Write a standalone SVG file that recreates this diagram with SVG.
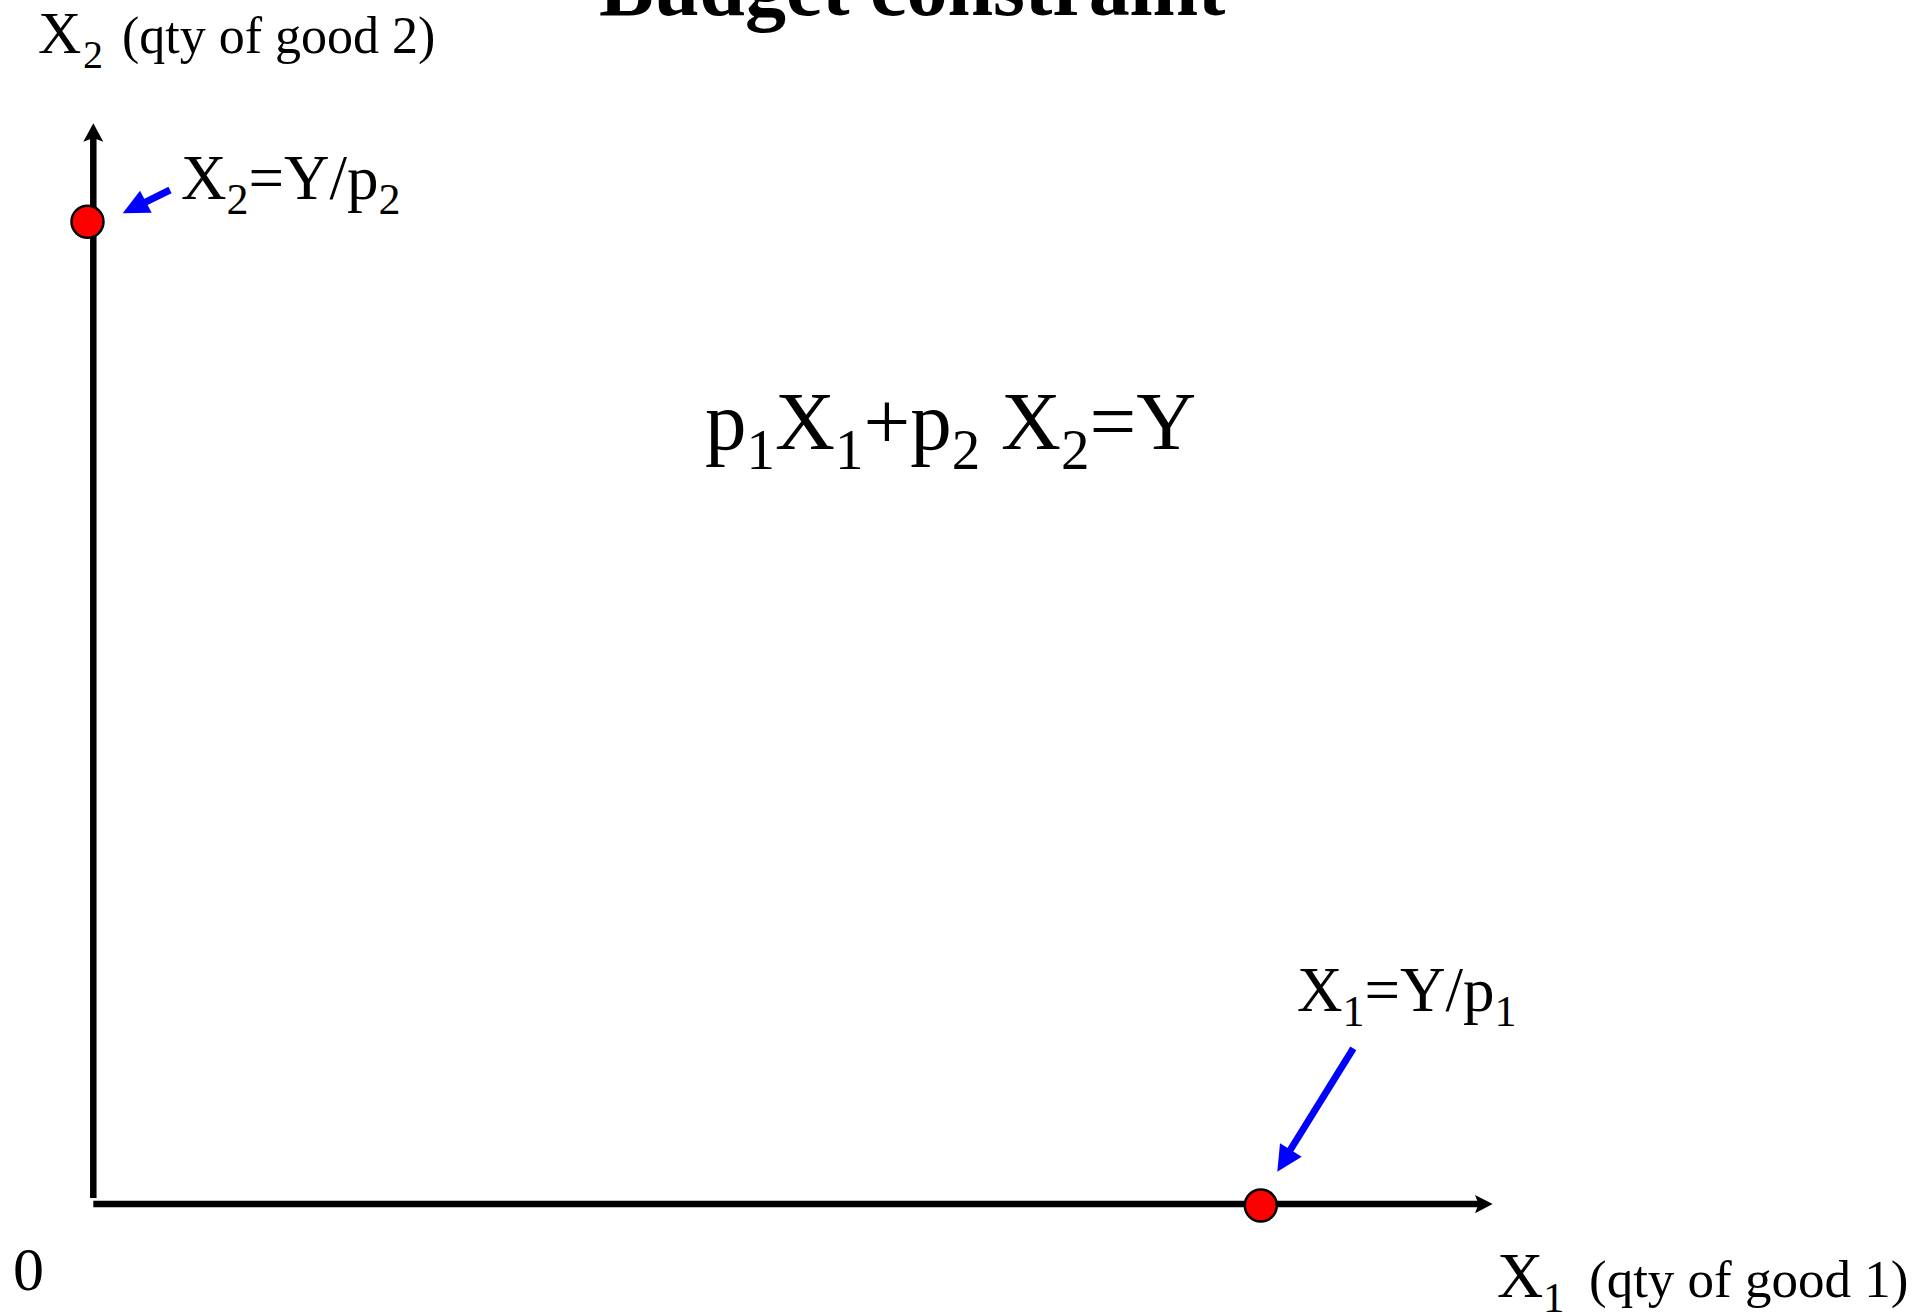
<svg xmlns="http://www.w3.org/2000/svg" width="1927" height="1316" viewBox="0 0 1927 1316">
<style>
text{font-family:"Liberation Serif","Times New Roman",serif;fill:#000}
.axis{stroke:#000;stroke-width:6.5;fill:none}
.head{fill:#000}
.pt{fill:#ff0000;stroke:#000;stroke-width:2.5}
.ptr{stroke:#0000ff;stroke-width:7;fill:none}
.ptrh{fill:#0000ff}
</style>
<rect width="1927" height="1316" fill="#fff"/>
<text id="title" x="599" y="15" font-size="82" font-weight="bold">Budget constraint</text>
<g id="axes">
<line class="axis" x1="93.3" y1="1198" x2="93.3" y2="136"/>
<path class="head" d="M93.3,123.3 L103.3,141.7 L93.3,138 L83.3,141.7 Z"/>
<line class="axis" x1="93.3" y1="1204" x2="1480" y2="1204"/>
<path class="head" d="M1492.7,1204 L1475,1213.3 L1478.5,1204 L1475,1195 Z"/>
</g>
<g id="labels">
<text x="38" y="53"><tspan font-size="60">X</tspan><tspan font-size="40" x="83" y="68">2</tspan><tspan font-size="52" x="122" y="53">(qty of good 2)</tspan></text>
<text x="1497" y="1297"><tspan font-size="64">X</tspan><tspan font-size="43" x="1543" y="1312">1</tspan><tspan font-size="53" x="1589" y="1297">(qty of good 1)</tspan></text>
<text x="13" y="1290" font-size="62">0</text>
</g>
<g id="formula">
<text x="705" y="449" font-size="83">p<tspan font-size="57" dy="20">1</tspan><tspan dy="-20">X</tspan><tspan font-size="57" dy="20">1</tspan><tspan dy="-20">+p</tspan><tspan font-size="57" dy="20">2</tspan><tspan dy="-20"> X</tspan><tspan font-size="57" dy="20">2</tspan><tspan dy="-20">=Y</tspan></text>
</g>
<g id="node-intercept-x2">
<circle class="pt" cx="87.5" cy="221.7" r="16"/>
<text x="181" y="199" font-size="63">X<tspan font-size="44" dy="15">2</tspan><tspan dy="-15">=Y/p</tspan><tspan font-size="44" dy="15">2</tspan></text>
</g>
<g id="node-intercept-x1">
<circle class="pt" cx="1260.8" cy="1205.5" r="16"/>
<text x="1297" y="1011" font-size="63">X<tspan font-size="44" dy="15">1</tspan><tspan dy="-15">=Y/p</tspan><tspan font-size="44" dy="15">1</tspan></text>
</g>
<g id="connectors">
<line class="ptr" x1="170" y1="190" x2="143" y2="203.3"/>
<path class="ptrh" d="M122.7,213.3 L140,190.7 L151.7,212.7 Z"/>
<line class="ptr" x1="1353.3" y1="1048.3" x2="1289" y2="1152"/>
<path class="ptrh" d="M1277.3,1171.7 L1280,1143.3 L1301.7,1156.7 Z"/>
</g>
</svg>
